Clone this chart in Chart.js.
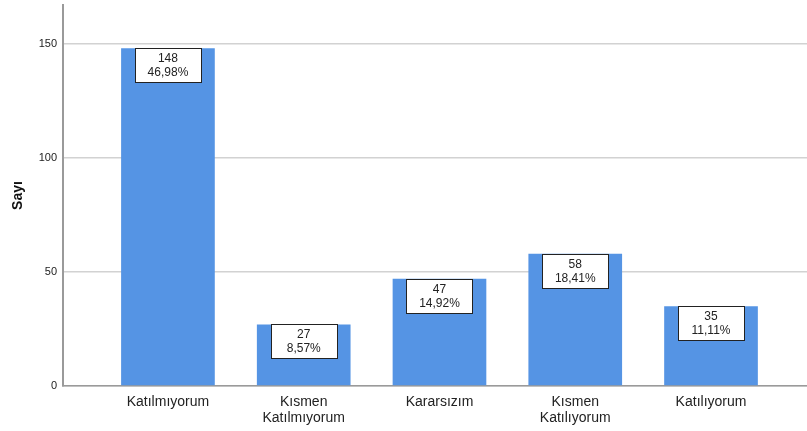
<!DOCTYPE html>
<html>
<head>
<meta charset="utf-8">
<script src="https://cdn.jsdelivr.net/npm/chart.js@4"></script>
<style>
  html, body { margin: 0; padding: 0; background: #fff; }
  #wrap { width: 807px; height: 431px; }
</style>
</head>
<body>
<div id="wrap"><canvas id="c" width="807" height="431"></canvas></div>
<script>
(function(){
'use strict';

// datos
const categorias = [['Katılmıyorum'], ['Kısmen', 'Katılmıyorum'], ['Kararsızım'], ['Kısmen', 'Katılıyorum'], ['Katılıyorum']];
const conteos    = [148, 27, 47, 58, 35];
const porcentajes = ['46,98%', '8,57%', '14,92%', '18,41%', '11,11%'];
const yTicks     = [0, 50, 100, 150];

const FONT = '"Liberation Sans", Arial, sans-serif';

// etiquetas en caja (conteo + porcentaje) pegadas al tope de cada barra
const cajaEtiquetas = {
  id: 'cajaEtiquetas',
  afterDatasetsDraw(chart){
    const ctx = chart.ctx;
    const meta = chart.getDatasetMeta(0);
    ctx.save();
    meta.data.forEach((bar, i) => {
      const w = 66, h = 34;
      const x = Math.round(bar.x - w / 2) + 0.5;
      const y = Math.round(bar.y) + 0.5;
      ctx.fillStyle = '#fff';
      ctx.fillRect(x, y, w, h);
      ctx.strokeStyle = '#222';
      ctx.lineWidth = 1;
      ctx.strokeRect(x, y, w, h);
      ctx.fillStyle = '#222';
      ctx.font = '12px ' + FONT;
      ctx.textAlign = 'center';
      ctx.textBaseline = 'middle';
      ctx.fillText(String(conteos[i]), bar.x, y + 10);
      ctx.fillText(porcentajes[i], bar.x, y + 24);
    });
    ctx.restore();
  }
};

const ctx = document.getElementById('c').getContext('2d');
new Chart(ctx, {
  type: 'bar',
  data: {
    datasets: [{
      data: conteos.map((v, i) => ({ x: i, y: v })),
      backgroundColor: '#5594e4',
      borderWidth: 0,
      categoryPercentage: 1,
      barPercentage: 0.69
    }]
  },
  options: {
    responsive: false,
    animation: false,
    layout: { padding: { top: 5, right: 0, bottom: 0, left: 0 } },
    plugins: { legend: { display: false }, tooltip: { enabled: false } },
    scales: {
      x: {
        type: 'linear',
        offset: false,
        min: -0.773,
        max: 4.707,
        afterBuildTicks: s => { s.ticks = categorias.map((c, i) => ({ value: i })); },
        afterFit: s => { s.height = 45; s.paddingLeft = 0; s.paddingRight = 0; },
        grid: { display: false, drawTicks: false, offset: false },
        border: { display: true, color: '#9a9a9a', width: 1.5 },
        ticks: {
          autoSkip: false,
          maxRotation: 0,
          padding: 8,
          color: '#222',
          font: { family: FONT, size: 14, lineHeight: 1.15 },
          callback: v => categorias[v] || ''
        }
      },
      y: {
        min: 0,
        max: 167,
        afterBuildTicks: s => { s.ticks = yTicks.map(v => ({ value: v })); },
        afterFit: s => { s.width = 63; s.paddingTop = 0; s.paddingBottom = 0; },
        grid: { color: '#d2d2d2', lineWidth: 1.5, drawTicks: false },
        border: { display: true, color: '#9a9a9a', width: 2 },
        ticks: {
          padding: 6,
          color: '#222',
          font: { family: FONT, size: 11 }
        },
        title: {
          display: true,
          text: 'Sayı',
          color: '#111',
          padding: { top: 10, bottom: 4 },
          font: { family: FONT, size: 14, weight: 'bold' }
        }
      }
    }
  },
  plugins: [cajaEtiquetas]
});

})();
</script>
</body>
</html>
